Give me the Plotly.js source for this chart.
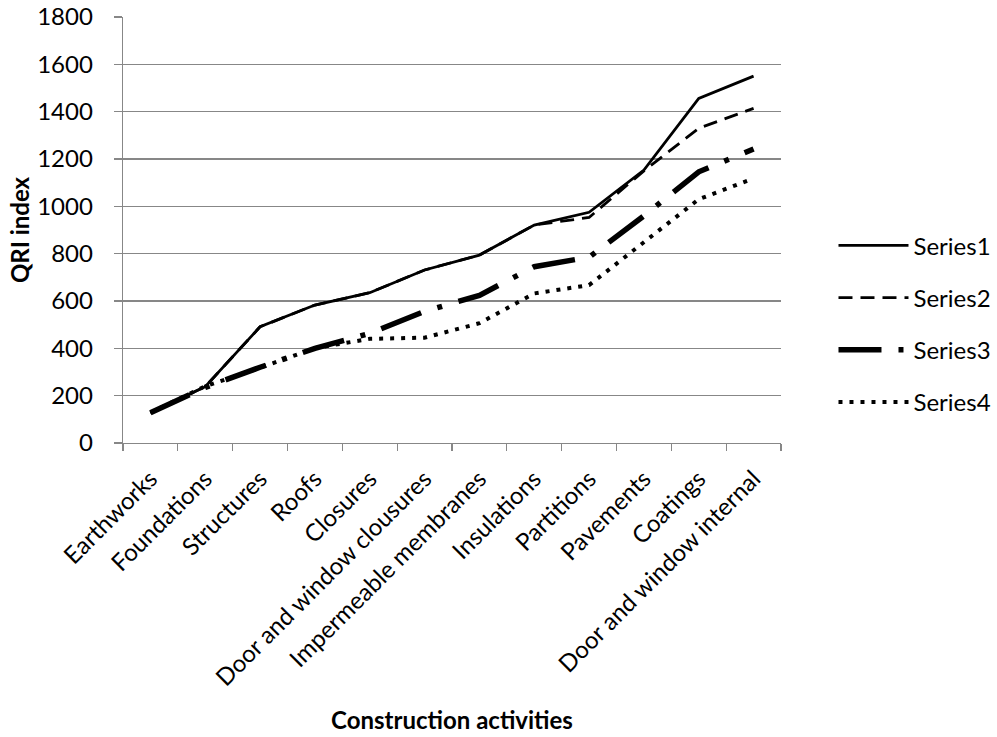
<!DOCTYPE html>
<html>
<head>
<meta charset="utf-8">
<script src="https://cdn.plot.ly/plotly-3.0.1.min.js"></script>
<style>html,body{margin:0;padding:0;background:#fff;}#chart{width:997px;height:737px;}</style>
</head>
<body>
<div id="chart"></div>
<script>
const categories = ["Earthworks", "Foundations", "Structures", "Roofs", "Closures",
  "Door and window clousures", "Impermeable membranes", "Insulations", "Partitions",
  "Pavements", "Coatings", "Door and window internal"];
const series1 = [128, 238, 491, 583, 635, 731, 794, 921, 975, 1153, 1456, 1550];
const series2 = [128, 238, 491, 583, 635, 731, 794, 921, 953, 1150, 1330, 1414];
const series3 = [128, 235, 320, 400, 463, 556, 624, 745, 785, 960, 1146, 1242];
const series4 = [128, 240, 318, 401, 440, 445, 506, 632, 667, 850, 1030, 1118];
const seriesNames = ["Series1", "Series2", "Series3", "Series4"];
const yTicks = [0, 200, 400, 600, 800, 1000, 1200, 1400, 1600, 1800];

const FONT = "Lato, 'Open Sans', sans-serif";
const GRID = "#878787";

const traces = [
  {x: categories, y: series1, name: seriesNames[0], legendgroup: "a",
   line: {color: "#000", width: 2.8, dash: "solid"}},
  {x: categories, y: series2, name: seriesNames[1], legendgroup: "b",
   line: {color: "#000", width: 2.8, dash: "14px,8px"}},
  {x: categories, y: series3, name: seriesNames[2], legendgroup: "c",
   line: {color: "#000", width: 5.5, dash: "43px,17px,5px,17px"}},
  {x: categories, y: series4, name: seriesNames[3], legendgroup: "d",
   line: {color: "#000", width: 4, dash: "4px,7px"}}
].map(t => Object.assign({type: "scatter", mode: "lines", hoverinfo: "skip"}, t));

const layout = {
  width: 997, height: 737,
  margin: {l: 123, r: 216, t: 17, b: 294},
  paper_bgcolor: "#fff", plot_bgcolor: "#fff",
  font: {family: FONT, size: 24, color: "#000"},
  showlegend: true,
  legend: {
    xref: "container", yref: "container",
    x: 0.836, y: 0.697, xanchor: "left", yanchor: "top",
    traceorder: "grouped", tracegroupgap: 18,
    itemwidth: 70, font: {family: FONT, size: 24, color: "#000"},
    bgcolor: "rgba(0,0,0,0)"
  },
  xaxis: {
    type: "category", categoryorder: "array", categoryarray: categories,
    range: [-0.5, categories.length - 0.5],
    tickson: "boundaries", ticks: "outside", ticklen: 7, tickcolor: GRID, tickwidth: 1.3,
    showline: true, linecolor: GRID, linewidth: 1.3,
    showgrid: false, zeroline: false,
    tickangle: -45, ticklabelstandoff: 11,
    tickfont: {family: FONT, size: 24, color: "#000"},
    title: {text: "Construction activities", font: {family: FONT, size: 24, color: "#000", weight: "bold"}, standoff: 22}
  },
  yaxis: {
    range: [0, 1800], tickvals: yTicks, ticktext: yTicks.map(String),
    ticks: "outside", ticklen: 8, tickcolor: GRID, tickwidth: 1.3,
    showline: true, linecolor: GRID, linewidth: 1.3,
    showgrid: true, gridcolor: GRID, gridwidth: 1.3, zeroline: false,
    ticklabelstandoff: 16,
    tickfont: {family: FONT, size: 24, color: "#000"},
    title: {text: "QRI index", font: {family: FONT, size: 24, color: "#000", weight: "bold"}, standoff: 0}
  }
};

Plotly.newPlot("chart", traces, layout, {staticPlot: true, displayModeBar: false});
</script>
</body>
</html>
